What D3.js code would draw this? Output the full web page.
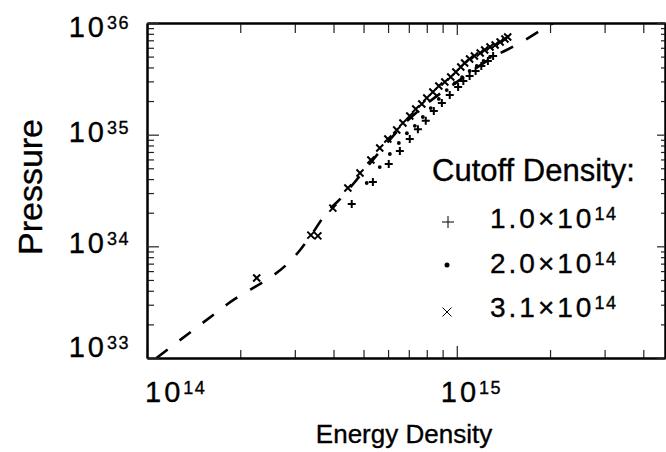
<!DOCTYPE html>
<html>
<head>
<meta charset="utf-8">
<script src="https://cdn.jsdelivr.net/npm/d3@7"></script>
<style>
  body { margin: 0; background: #fff; }
  svg { display: block; font-family: "Liberation Sans", Arial, sans-serif; }
  svg text { fill: #000; stroke: #000; stroke-width: 0.35; }
  .axis path { stroke: #000; stroke-width: 2; fill: none; }
  .axis line { stroke: #222; stroke-width: 1.2; }
</style>
</head>
<body>
<svg id="chart" width="666" height="452"></svg>
<script>
// full equation of state (dashed line)
const curveE = [1.073e14, 1.82e14, 3.12e14, 3.41e14, 3.75e14, 4.29e14, 4.98e14, 5.77e14, 6.80e14, 8.06e14, 1.01e15, 1.31e15, 1.60e15, 1.92e15, 2.23e15];
const curveP = [1.0e33, 3.04e33, 9.27e33, 1.29e34, 1.91e34, 2.82e34, 4.63e34, 7.60e34, 1.27e35, 1.92e35, 3.02e35, 4.96e35, 6.62e35, 9.02e35, 1.13e36];

// cutoff density 1.0e14 (+)
const plusE = [4.58e14, 5.36e14, 6.03e14, 6.55e14, 7.05e14, 7.49e14, 7.94e14, 8.43e14, 8.95e14, 9.49e14, 1.01e15, 1.05e15, 1.10e15, 1.15e15, 1.20e15, 1.26e15, 1.31e15];
const plusP = [2.39e34, 3.77e34, 5.46e34, 7.14e34, 9.15e34, 1.12e35, 1.33e35, 1.63e35, 1.92e35, 2.27e35, 2.67e35, 3.02e35, 3.35e35, 3.72e35, 4.12e35, 4.57e35, 5.06e35];

// cutoff density 2.0e14 (dots)
const dotE = [5.12e14, 5.64e14, 6.08e14, 6.50e14, 6.90e14, 7.32e14, 7.77e14, 8.24e14, 8.75e14, 9.28e14, 9.85e14, 1.04e15, 1.10e15, 1.16e15, 1.22e15, 1.28e15];
const dotP = [3.69e34, 5.13e34, 6.71e34, 8.42e34, 1.03e35, 1.20e35, 1.44e35, 1.73e35, 2.09e35, 2.51e35, 2.90e35, 3.28e35, 3.72e35, 4.12e35, 4.57e35, 4.96e35];

// cutoff density 3.1e14 (x)
const crossE = [2.26e14, 3.38e14, 3.56e14, 3.98e14, 4.45e14, 4.87e14, 5.28e14, 5.64e14, 5.99e14, 6.40e14, 6.70e14, 7.05e14, 7.37e14, 7.71e14, 8.00e14, 8.37e14, 8.75e14, 9.15e14, 9.56e14, 9.93e14, 1.03e15, 1.06e15, 1.10e15, 1.14e15, 1.19e15, 1.23e15, 1.28e15, 1.33e15, 1.38e15, 1.43e15, 1.46e15];
const crossP = [5.21e33, 1.26e34, 1.24e34, 2.20e34, 3.33e34, 4.54e34, 5.93e34, 7.60e34, 9.15e34, 1.10e35, 1.27e35, 1.47e35, 1.70e35, 1.88e35, 2.13e35, 2.41e35, 2.73e35, 2.96e35, 3.28e35, 3.64e35, 4.04e35, 4.38e35, 4.76e35, 5.06e35, 5.39e35, 5.73e35, 6.10e35, 6.35e35, 6.76e35, 7.19e35, 7.49e35];

const xMajor = [1e14, 1e15];
const yMajor = [1e33, 1e34, 1e35, 1e36];
const legendMantissa = ['1.0', '2.0', '3.1'];
const legendExp = '14';

const box = { left: 147, top: 23, right: 665, bottom: 358 };
const svg = d3.select('#chart');

const x = d3.scaleLog().domain([1e14, 4.7e15]).range([box.left, box.right]);
const y = d3.scaleLog().domain([1e33, 1e36]).range([box.bottom, box.top]);

const isDecade = v => Math.abs(Math.log10(v) - Math.round(Math.log10(v))) < 1e-6;
const xMinor = x.ticks().filter(v => !isDecade(v));
const yMinor = y.ticks().filter(v => !isDecade(v));

function axis(fn, scale, tr, values, size) {
  svg.append('g').attr('class', 'axis').attr('transform', tr)
    .call(fn(scale).tickValues(values).tickSize(size).tickSizeOuter(0).tickFormat(''));
}
axis(d3.axisBottom, x, `translate(0,${box.bottom})`, xMinor, -8);
axis(d3.axisBottom, x, `translate(0,${box.bottom})`, xMajor, -12);
axis(d3.axisTop, x, `translate(0,${box.top})`, xMinor, -10);
axis(d3.axisTop, x, `translate(0,${box.top})`, xMajor, -12);
axis(d3.axisLeft, y, `translate(${box.left},0)`, yMinor, -7);
axis(d3.axisLeft, y, `translate(${box.left},0)`, yMajor, -12);
axis(d3.axisRight, y, `translate(${box.right},0)`, yMinor, -4);
axis(d3.axisRight, y, `translate(${box.right},0)`, yMajor, -8);

// power-of-ten tick labels
function powLabel(sel) {
  sel.each(function(d) {
    const t = d3.select(this);
    t.append('tspan').text('10');
    t.append('tspan').attr('dy', -8).style('font-size', '18px').style('letter-spacing', '1.5px')
      .text(Math.round(Math.log10(d)));
  });
}
svg.selectAll('.xlab').data(xMajor).join('text').attr('class', 'xlab')
  .attr('x', d => Math.max(x(d) - 16, 145)).attr('y', 402)
  .style('font-size', '29px').style('letter-spacing', '3px')
  .call(powLabel);
svg.selectAll('.ylab').data(yMajor).join('text').attr('class', 'ylab')
  .attr('x', 130).attr('y', d => Math.min(Math.max(y(d) + 7, 37), 357))
  .attr('text-anchor', 'end')
  .style('font-size', '29px').style('letter-spacing', '3px')
  .call(powLabel);

svg.append('text').attr('x', 404).attr('y', 443).attr('text-anchor', 'middle')
  .style('font-size', '26px').text('Energy Density');
svg.append('text').attr('transform', 'translate(42,187) rotate(-90)').attr('text-anchor', 'middle')
  .style('font-size', '34px').text('Pressure');

// plot contents
svg.append('clipPath').attr('id', 'clip').append('rect')
  .attr('x', box.left).attr('y', box.top)
  .attr('width', box.right - box.left).attr('height', box.bottom - box.top);
const plot = svg.append('g').attr('clip-path', 'url(#clip)');

const curve = curveE.map((e, i) => [e, curveP[i]]);
plot.append('path').datum(curve)
  .attr('fill', 'none').attr('stroke', '#000').attr('stroke-width', 2.6)
  .attr('stroke-dasharray', '14,15')
  .attr('d', d3.line().x(d => x(d[0])).y(d => y(d[1])).curve(d3.curveMonotoneX));

const plusPath = 'M-4,0H4M0,-4V4';
const crossPath = 'M-3.5,-3.5L3.5,3.5M-3.5,3.5L3.5,-3.5';

plot.selectAll('.plus').data(plusE.map((e, i) => [e, plusP[i]])).join('path').attr('class', 'plus')
  .attr('transform', d => `translate(${x(d[0])},${y(d[1])})`)
  .attr('d', plusPath).attr('stroke', '#000').attr('stroke-width', 2);
plot.selectAll('.dot').data(dotE.map((e, i) => [e, dotP[i]])).join('circle').attr('class', 'dot')
  .attr('cx', d => x(d[0])).attr('cy', d => y(d[1])).attr('r', 1.9).attr('fill', '#000');
plot.selectAll('.cross').data(crossE.map((e, i) => [e, crossP[i]])).join('path').attr('class', 'cross')
  .attr('transform', d => `translate(${x(d[0])},${y(d[1])})`)
  .attr('d', crossPath).attr('stroke', '#000').attr('stroke-width', 2);

// legend
const legend = svg.append('g');
legend.append('text').attr('x', 432).attr('y', 181).style('font-size', '31px').text('Cutoff Density:');
const rows = legend.selectAll('.row').data(legendMantissa).join('g').attr('class', 'row')
  .attr('transform', (d, i) => `translate(0,${i * 44.5})`);
rows.append('text').attr('x', 490).attr('y', 228)
  .style('font-size', '28px').style('letter-spacing', '3px')
  .each(function(d) {
    const t = d3.select(this);
    t.append('tspan').text(d + '\u00D710');
    t.append('tspan').attr('dy', -8).style('font-size', '18px').style('letter-spacing', '1.5px').text(legendExp);
  });
legend.append('path').attr('transform', 'translate(448,222)').attr('d', 'M-6,0H6M0,-6V6')
  .attr('stroke', '#000').attr('stroke-width', 1);
legend.append('circle').attr('cx', 447).attr('cy', 265).attr('r', 2.5).attr('fill', '#000');
legend.append('path').attr('transform', 'translate(447,312)').attr('d', 'M-4.5,-4.5L4.5,4.5M-4.5,4.5L4.5,-4.5')
  .attr('stroke', '#000').attr('stroke-width', 1);
</script>
</body>
</html>
